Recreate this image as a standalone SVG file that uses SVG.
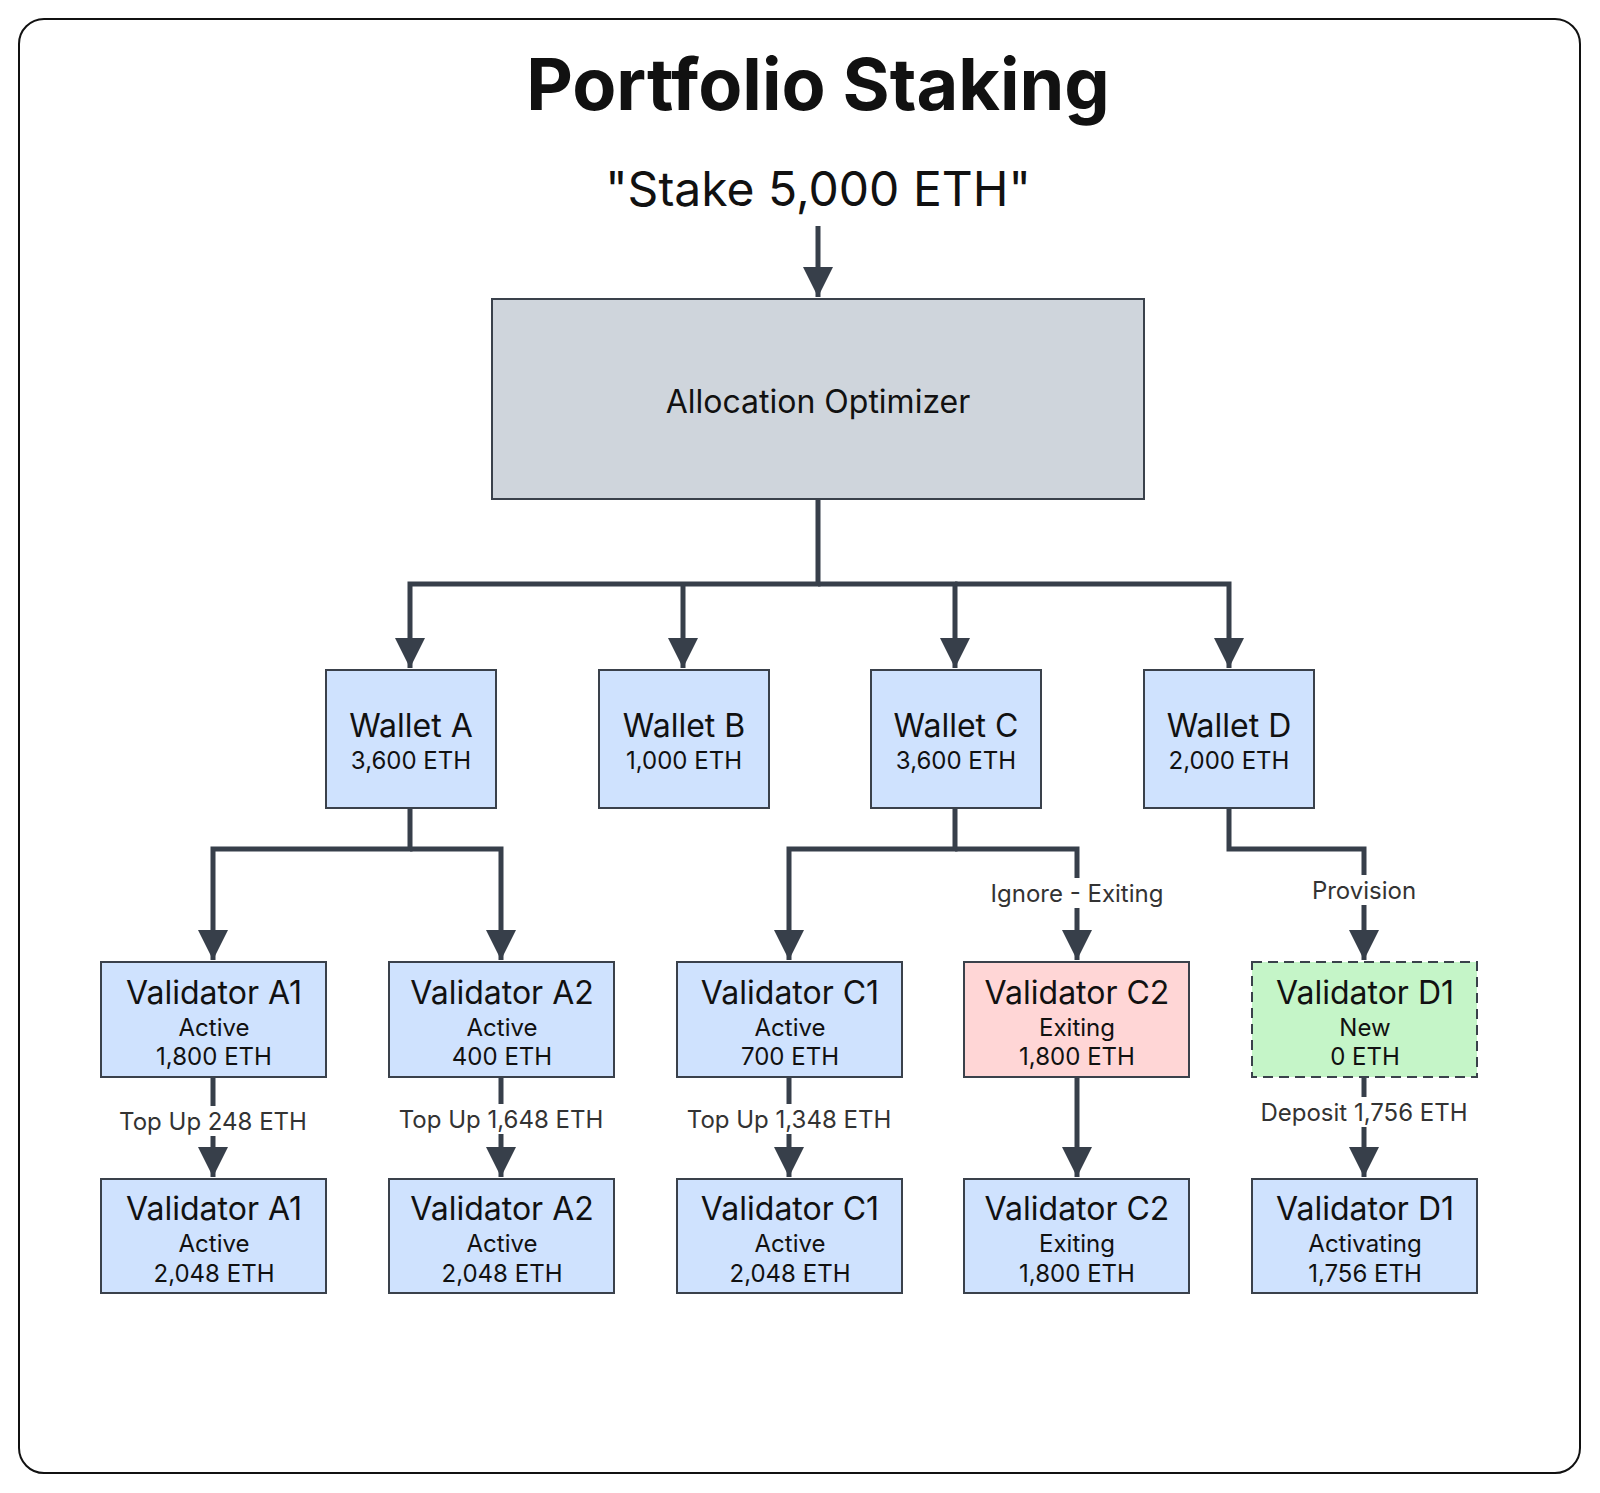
<svg xmlns="http://www.w3.org/2000/svg" width="1600" height="1493" viewBox="0 0 1600 1493">
<style>
text{font-family:Inter,"Noto Sans","Liberation Sans",sans-serif;fill:#111;text-anchor:middle}
.box{fill:#cfe2fe;stroke:#3a414b;stroke-width:2}
.n{font-size:32px}.s{font-size:24px}
.e{fill:none;stroke:#373f4a;stroke-width:5}
.lbl{font-size:24px;fill:#333}
.bg{fill:#fff}
</style>
<defs><marker id="ah" viewBox="0 0 10 10" refX="10" refY="5" markerWidth="7" markerHeight="6" markerUnits="strokeWidth" orient="auto"><path d="M0,0L10,5L0,10z" fill="#373f4a"/></marker></defs>
<rect x="19" y="19" width="1561" height="1454" rx="25" fill="#fff" stroke="#111" stroke-width="2"/>
<text x="818" y="110" style="font-size:72px;font-weight:bold">Portfolio Staking</text>
<text x="818" y="206" style="font-size:48px">"Stake 5,000 ETH"</text>
<g id="connectors">
<path class="e" d="M818,226V297" marker-end="url(#ah)"/>
<path class="e" d="M818,499V584H410V668" marker-end="url(#ah)"/>
<path class="e" d="M683,584V668" marker-end="url(#ah)"/>
<path class="e" d="M818,584H955V668" marker-end="url(#ah)"/>
<path class="e" d="M955,584H1229V668" marker-end="url(#ah)"/>
<path class="e" d="M410,808V849H213V960" marker-end="url(#ah)"/>
<path class="e" d="M410,849H501V960" marker-end="url(#ah)"/>
<path class="e" d="M955,808V849H789V960" marker-end="url(#ah)"/>
<path class="e" d="M955,849H1077V960" marker-end="url(#ah)"/>
<path class="e" d="M1229,808V849H1364V960" marker-end="url(#ah)"/>
<path class="e" d="M213,1077V1177" marker-end="url(#ah)"/>
<path class="e" d="M501,1077V1177" marker-end="url(#ah)"/>
<path class="e" d="M789,1077V1177" marker-end="url(#ah)"/>
<path class="e" d="M1077,1077V1177" marker-end="url(#ah)"/>
<path class="e" d="M1364,1077V1177" marker-end="url(#ah)"/>
<rect class="bg" x="985" y="878" width="184" height="30"/><text class="lbl" x="1077" y="902">Ignore - Exiting</text>
<rect class="bg" x="1310" y="875" width="108" height="30"/><text class="lbl" x="1364" y="899">Provision</text>
<rect class="bg" x="120" y="1106" width="186" height="30"/><text class="lbl" x="213" y="1130">Top Up 248 ETH</text>
<rect class="bg" x="398" y="1104" width="206" height="30"/><text class="lbl" x="501" y="1128">Top Up 1,648 ETH</text>
<rect class="bg" x="686" y="1104" width="206" height="30"/><text class="lbl" x="789" y="1128">Top Up 1,348 ETH</text>
<rect class="bg" x="1260" y="1097" width="208" height="30"/><text class="lbl" x="1364" y="1121">Deposit 1,756 ETH</text>
</g>
<g id="optimizer"><rect x="492" y="299" width="652" height="200" fill="#cfd5dc" stroke="#3a414b" stroke-width="2"/><text class="n" x="818" y="413">Allocation Optimizer</text></g>
<g id="walletA"><rect class="box" x="326" y="670" width="170" height="138"/><text class="n" x="411" y="737">Wallet A</text><text class="s" x="411" y="769">3,600 ETH</text></g>
<g id="walletB"><rect class="box" x="599" y="670" width="170" height="138"/><text class="n" x="684" y="737">Wallet B</text><text class="s" x="684" y="769">1,000 ETH</text></g>
<g id="walletC"><rect class="box" x="871" y="670" width="170" height="138"/><text class="n" x="956" y="737">Wallet C</text><text class="s" x="956" y="769">3,600 ETH</text></g>
<g id="walletD"><rect class="box" x="1144" y="670" width="170" height="138"/><text class="n" x="1229" y="737">Wallet D</text><text class="s" x="1229" y="769">2,000 ETH</text></g>
<g id="vA1"><rect class="box" x="101" y="962" width="225" height="115"/><text class="n" x="214" y="1004">Validator A1</text><text class="s" x="214" y="1036">Active</text><text class="s" x="214" y="1065">1,800 ETH</text></g>
<g id="vA2"><rect class="box" x="389" y="962" width="225" height="115"/><text class="n" x="502" y="1004">Validator A2</text><text class="s" x="502" y="1036">Active</text><text class="s" x="502" y="1065">400 ETH</text></g>
<g id="vC1"><rect class="box" x="677" y="962" width="225" height="115"/><text class="n" x="790" y="1004">Validator C1</text><text class="s" x="790" y="1036">Active</text><text class="s" x="790" y="1065">700 ETH</text></g>
<g id="vC2"><rect class="box" style="fill:#ffd6d6" x="964" y="962" width="225" height="115"/><text class="n" x="1077" y="1004">Validator C2</text><text class="s" x="1077" y="1036">Exiting</text><text class="s" x="1077" y="1065">1,800 ETH</text></g>
<g id="vD1"><rect class="box" style="fill:#c5f5c8;stroke-dasharray:10 6" x="1252" y="962" width="225" height="115"/><text class="n" x="1365" y="1004">Validator D1</text><text class="s" x="1365" y="1036">New</text><text class="s" x="1365" y="1065">0 ETH</text></g>
<g id="vA1b"><rect class="box" x="101" y="1179" width="225" height="114"/><text class="n" x="214" y="1220">Validator A1</text><text class="s" x="214" y="1252">Active</text><text class="s" x="214" y="1282">2,048 ETH</text></g>
<g id="vA2b"><rect class="box" x="389" y="1179" width="225" height="114"/><text class="n" x="502" y="1220">Validator A2</text><text class="s" x="502" y="1252">Active</text><text class="s" x="502" y="1282">2,048 ETH</text></g>
<g id="vC1b"><rect class="box" x="677" y="1179" width="225" height="114"/><text class="n" x="790" y="1220">Validator C1</text><text class="s" x="790" y="1252">Active</text><text class="s" x="790" y="1282">2,048 ETH</text></g>
<g id="vC2b"><rect class="box" x="964" y="1179" width="225" height="114"/><text class="n" x="1077" y="1220">Validator C2</text><text class="s" x="1077" y="1252">Exiting</text><text class="s" x="1077" y="1282">1,800 ETH</text></g>
<g id="vD1b"><rect class="box" x="1252" y="1179" width="225" height="114"/><text class="n" x="1365" y="1220">Validator D1</text><text class="s" x="1365" y="1252">Activating</text><text class="s" x="1365" y="1282">1,756 ETH</text></g>
</svg>
